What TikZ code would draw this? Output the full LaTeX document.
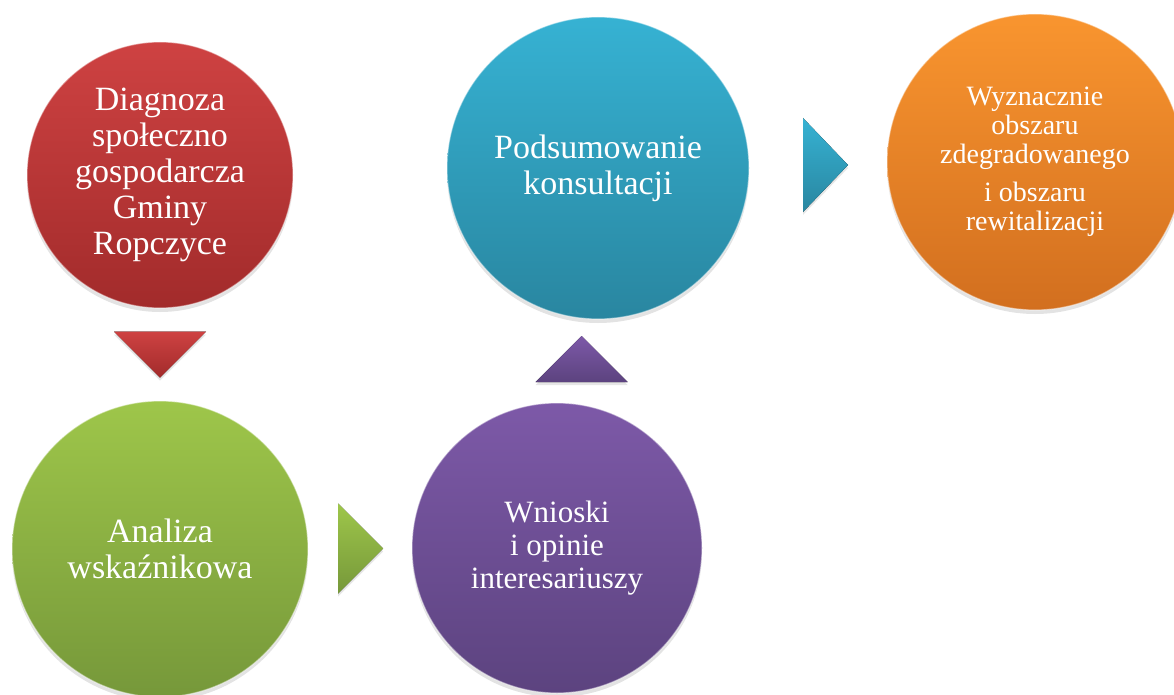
\documentclass[tikz,border=0pt]{standalone}
\usepackage{fontspec}
\setmainfont{Liberation Serif}
\usetikzlibrary{calc,shadows}

\definecolor{redTop}{HTML}{CE4242}
\definecolor{redBot}{HTML}{A22B2B}
\definecolor{greenTop}{HTML}{9EC64A}
\definecolor{greenBot}{HTML}{76983A}
\definecolor{purpleTop}{HTML}{7D59A8}
\definecolor{purpleBot}{HTML}{5C437F}
\definecolor{blueTop}{HTML}{36B2D3}
\definecolor{blueBot}{HTML}{2986A0}
\definecolor{orangeTop}{HTML}{F9952F}
\definecolor{orangeBot}{HTML}{D26F1F}

\tikzset{
  stage/.style={circle, inner sep=0pt, align=center, text=white,
    draw=white, draw opacity=0.45, line width=1.2pt,
    drop shadow={opacity=0.22, shadow xshift=0pt, shadow yshift=-4pt}},
  pointer/.style={drop shadow={opacity=0.2, shadow xshift=0pt, shadow yshift=-3pt}}
}

\begin{document}
\begin{tikzpicture}[x=1pt,y=-1pt]
\useasboundingbox (0,0) rectangle (1174,695);

\node[stage, minimum size=266pt, top color=redTop, bottom color=redBot,
  font=\fontsize{34}{36}\selectfont] (diag) at (160,175)
  {Diagnoza\\społeczno\\gospodarcza\\Gminy\\Ropczyce};
\node[stage, minimum size=296pt, top color=greenTop, bottom color=greenBot,
  font=\fontsize{34}{36}\selectfont] (anal) at (160,549)
  {Analiza\\wskaźnikowa};
\node[stage, minimum size=290pt, top color=purpleTop, bottom color=purpleBot,
  font=\fontsize{31}{33}\selectfont] (wnio) at (557,548)
  {Wnioski\\i opinie\\interesariuszy};
\node[stage, minimum size=302pt, top color=blueTop, bottom color=blueBot,
  font=\fontsize{34}{36}\selectfont] (pods) at (598,168)
  {Podsumowanie\\konsultacji};
\node[stage, minimum size=296pt, top color=orangeTop, bottom color=orangeBot,
  font=\fontsize{28}{29}\selectfont] (wyzn) at (1035,162)
  {Wyznacznie\\obszaru\\zdegradowanego\\[9pt]i obszaru\\rewitalizacji};

\coordinate (t1) at ($(diag.south)!0.5!(anal.north)$);
\coordinate (t2) at ($(anal.east)!0.5!(wnio.west)$);
\coordinate (t3) at ($(wnio.north)!0.5!(pods.south)+(4,-2)$);
\coordinate (t4) at ($(pods.east)!0.5!(wyzn.west)+(7,0)$);

\fill[pointer, top color=redTop, bottom color=redBot]
  ($(t1)+(-46,-23)$) -- ($(t1)+(46,-23)$) -- ($(t1)+(0,23)$) -- cycle;
\fill[pointer, top color=greenTop, bottom color=greenBot]
  ($(t2)+(-22,-45)$) -- ($(t2)+(23,0)$) -- ($(t2)+(-22,45)$) -- cycle;
\fill[pointer, top color=purpleTop, bottom color=purpleBot]
  ($(t3)+(-46,23)$) -- ($(t3)+(0,-23)$) -- ($(t3)+(46,23)$) -- cycle;
\fill[pointer, top color=blueTop, bottom color=blueBot]
  ($(t4)+(-22,-47)$) -- ($(t4)+(23,0)$) -- ($(t4)+(-22,47)$) -- cycle;
\end{tikzpicture}
\end{document}
